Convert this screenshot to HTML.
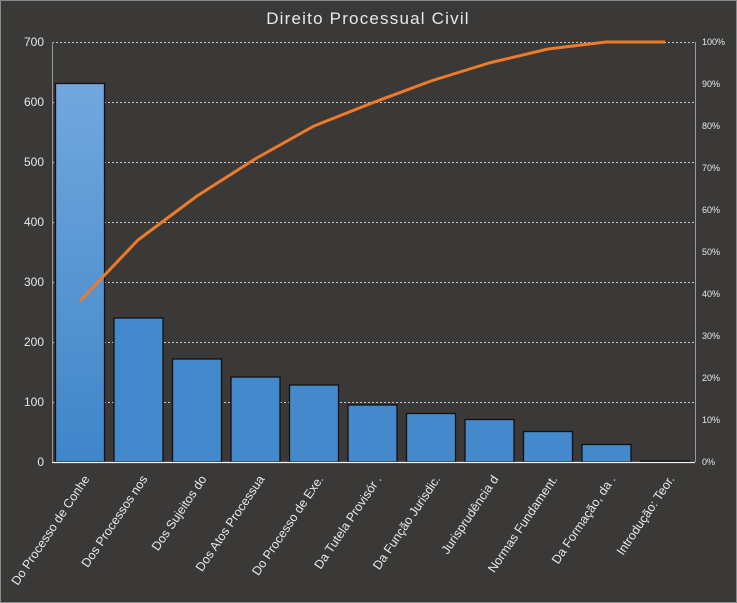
<!DOCTYPE html>
<html><head><meta charset="utf-8"><style>
html,body{margin:0;padding:0;background:#3a3937;}
svg{display:block;font-family:"Liberation Sans",sans-serif;}
</style></head><body>
<svg width="737" height="603" viewBox="0 0 737 603" xmlns="http://www.w3.org/2000/svg">
<defs>
<linearGradient id="g1" x1="0" y1="0" x2="0" y2="1"><stop offset="0" stop-color="#72a7dd"/><stop offset="1" stop-color="#3f86c9"/></linearGradient>
</defs>
<rect x="0.5" y="0.5" width="736" height="602" fill="#3a3937" stroke="#8a8a8a"/>
<text x="368" y="24" fill="#e8e8e8" font-size="17" text-anchor="middle" letter-spacing="1.2">Direito Processual Civil</text>
<g stroke="#c8c8c8" stroke-dasharray="2,2" stroke-width="1">
<line x1="52" y1="42.5" x2="695" y2="42.5"/><line x1="52" y1="102.5" x2="695" y2="102.5"/>
<line x1="52" y1="162.5" x2="695" y2="162.5"/><line x1="52" y1="222.5" x2="695" y2="222.5"/>
<line x1="52" y1="282.5" x2="695" y2="282.5"/><line x1="52" y1="342.5" x2="695" y2="342.5"/>
<line x1="52" y1="402.5" x2="695" y2="402.5"/>
</g>
<line x1="52.5" y1="42" x2="52.5" y2="462" stroke="#9a9a9a"/>
<line x1="695.5" y1="42" x2="695.5" y2="462" stroke="#9a9a9a"/>
<g fill="#e8e8e8" font-size="12" text-anchor="end">
<text x="44" y="46">700</text><text x="44" y="106">600</text><text x="44" y="166">500</text><text x="44" y="226">400</text><text x="44" y="286">300</text><text x="44" y="346">200</text><text x="44" y="406">100</text><text x="44" y="466">0</text>
</g>
<g fill="#e8e8e8" font-size="9">
<text x="702" y="45">100%</text><text x="702" y="87">90%</text><text x="702" y="129">80%</text><text x="702" y="171">70%</text><text x="702" y="213">60%</text><text x="702" y="255">50%</text><text x="702" y="297">40%</text><text x="702" y="339">30%</text><text x="702" y="381">20%</text><text x="702" y="423">10%</text><text x="702" y="465">0%</text>
</g>
<g stroke="#111" stroke-width="1.3" fill="#4489cc">
<rect x="55.5" y="83.5" width="49" height="378.5" fill="url(#g1)"/>
<rect x="114" y="318" width="49" height="144"/>
<rect x="172.5" y="359" width="49" height="103"/>
<rect x="231" y="377" width="49" height="85"/>
<rect x="289.5" y="385" width="49" height="77"/>
<rect x="348" y="405" width="49" height="57"/>
<rect x="406.5" y="413.5" width="49" height="48.5"/>
<rect x="465" y="419.5" width="49" height="42.5"/>
<rect x="523.5" y="431.5" width="49" height="30.5"/>
<rect x="582" y="444.5" width="49" height="17.5"/>
<rect x="640.5" y="461" width="49" height="1"/>
</g>
<line x1="52" y1="462.5" x2="695" y2="462.5" stroke="#f0f0f0" stroke-width="1.3"/>
<polyline fill="none" stroke="#ee7a2a" stroke-width="3" stroke-linejoin="round" points="80,301 138,240 197,196 255,159 314,126 372,103 431,81 489,63 548,49 606,42 665,42"/>
<g fill="#e8e8e8" font-size="12.5" text-anchor="end">
<text transform="translate(90,479) rotate(-56)">Do Processo de Conhe</text>
<text transform="translate(148,479) rotate(-56)">Dos Processos nos</text>
<text transform="translate(207,479) rotate(-56)">Dos Sujeitos do</text>
<text transform="translate(265,479) rotate(-56)">Dos Atos Processua</text>
<text transform="translate(324,479) rotate(-56)">Do Processo de Exe.</text>
<text transform="translate(382,479) rotate(-56)">Da Tutela Provisór .</text>
<text transform="translate(441,479) rotate(-56)">Da Função Jurisdic.</text>
<text transform="translate(499,479) rotate(-56)">Jurisprudência d</text>
<text transform="translate(558,479) rotate(-56)">Normas Fundament.</text>
<text transform="translate(616,479) rotate(-56)">Da Formação, da .</text>
<text transform="translate(675,479) rotate(-56)">Introdução: Teor.</text>
</g>
</svg>
</body></html>
